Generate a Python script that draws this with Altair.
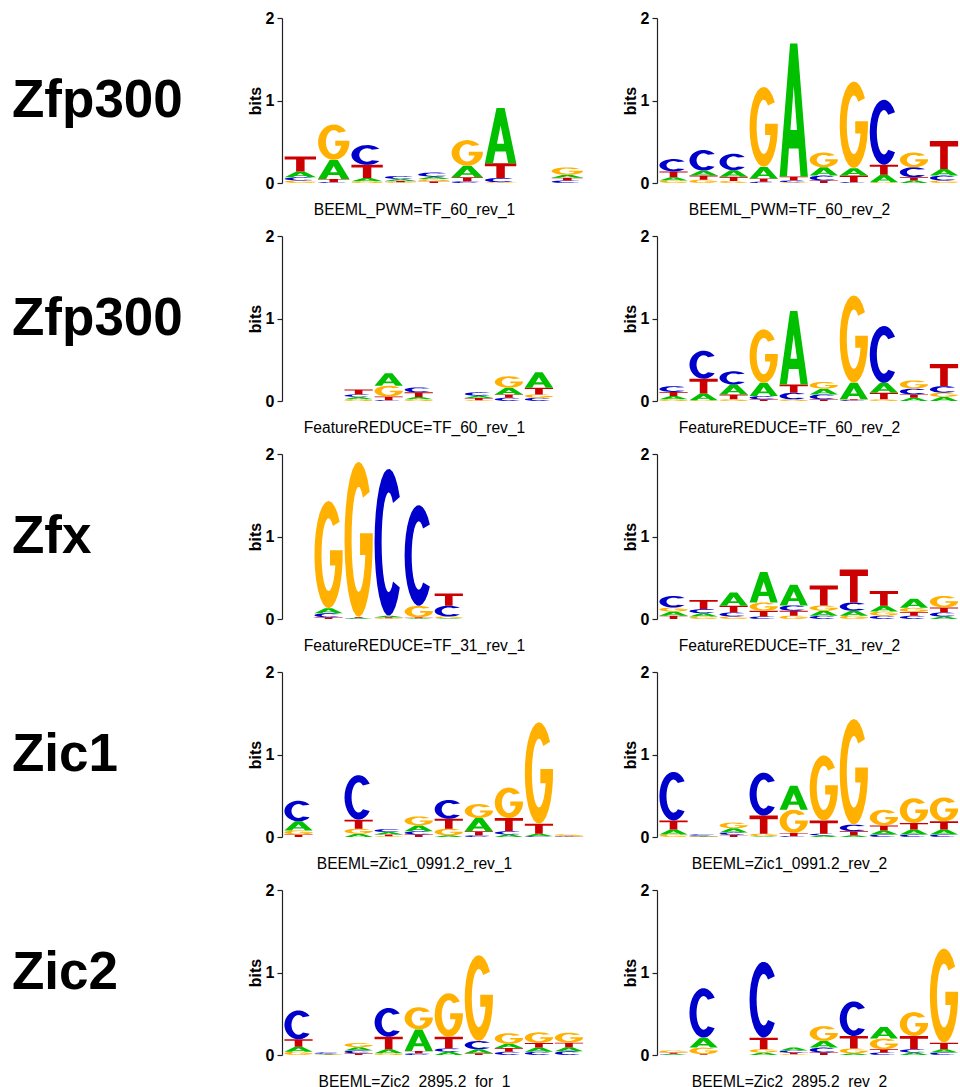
import math
import altair as alt
import pandas as pd

FONT = "Liberation Sans"
LETTERS = ["A", "C", "G", "T"]
LETTER_COLORS = ["#00c000", "#0000cc", "#ffb000", "#cc0000"]

# Information content (bits) of each base at each motif position.
beeml_pwm_tf60_rev1 = {
    "A": [0.07, 0.23, 0.04, 0.025, 0.03, 0.14, 0.67, 0.0, 0.035],
    "C": [0.04, 0.01, 0.24, 0.035, 0.05, 0.02, 0.05, 0.0, 0.03],
    "G": [0.03, 0.43, 0.02, 0.01, 0.025, 0.31, 0.01, 0.0, 0.09],
    "T": [0.18, 0.04, 0.16, 0.015, 0.022, 0.05, 0.18, 0.0, 0.034],
}
beeml_pwm_tf60_rev2 = {
    "A": [0.04, 0.06, 0.08, 0.14, 1.61, 0.10, 0.09, 0.09, 0.03, 0.08],
    "C": [0.15, 0.25, 0.20, 0.015, 0.02, 0.06, 0.01, 0.79, 0.12, 0.06],
    "G": [0.03, 0.04, 0.025, 0.97, 0.01, 0.18, 1.05, 0.01, 0.18, 0.03],
    "T": [0.07, 0.05, 0.05, 0.04, 0.05, 0.03, 0.08, 0.12, 0.04, 0.34],
}
featurereduce_tf60_rev1 = {
    "A": [0.0, 0.0, 0.03, 0.15, 0.03, 0.0, 0.03, 0.08, 0.19, 0.0],
    "C": [0.0, 0.0, 0.03, 0.01, 0.06, 0.0, 0.04, 0.04, 0.04, 0.0],
    "G": [0.0, 0.0, 0.02, 0.13, 0.02, 0.0, 0.01, 0.14, 0.04, 0.0],
    "T": [0.0, 0.0, 0.06, 0.045, 0.055, 0.0, 0.025, 0.04, 0.08, 0.0],
}
featurereduce_tf60_rev2 = {
    "A": [0.04, 0.08, 0.12, 0.16, 0.89, 0.07, 0.20, 0.12, 0.04, 0.05],
    "C": [0.07, 0.34, 0.16, 0.04, 0.08, 0.06, 0.01, 0.69, 0.07, 0.08],
    "G": [0.02, 0.01, 0.02, 0.65, 0.02, 0.08, 1.06, 0.02, 0.10, 0.05],
    "T": [0.05, 0.18, 0.06, 0.02, 0.10, 0.02, 0.01, 0.08, 0.04, 0.27],
}
featurereduce_tf31_rev1 = {
    "A": [0.0, 0.06, 0.01, 0.02, 0.01, 0.01, 0.0, 0.0, 0.0, 0.0],
    "C": [0.0, 0.05, 0.005, 1.78, 1.22, 0.13, 0.0, 0.0, 0.0, 0.0],
    "G": [0.0, 1.30, 1.88, 0.01, 0.14, 0.02, 0.0, 0.0, 0.0, 0.0],
    "T": [0.0, 0.02, 0.01, 0.01, 0.01, 0.15, 0.0, 0.0, 0.0, 0.0],
}
featurereduce_tf31_rev2 = {
    "A": [0.05, 0.04, 0.16, 0.37, 0.25, 0.06, 0.06, 0.07, 0.11, 0.03],
    "C": [0.14, 0.05, 0.05, 0.03, 0.065, 0.04, 0.10, 0.04, 0.04, 0.05],
    "G": [0.05, 0.03, 0.03, 0.10, 0.04, 0.065, 0.04, 0.05, 0.05, 0.14],
    "T": [0.04, 0.11, 0.08, 0.07, 0.06, 0.24, 0.40, 0.18, 0.045, 0.06],
}
beeml_zic1_rev1 = {
    "A": [0.11, 0.0, 0.04, 0.03, 0.07, 0.02, 0.16, 0.03, 0.03, 0.004],
    "C": [0.25, 0.0, 0.54, 0.035, 0.04, 0.23, 0.02, 0.04, 0.01, 0.006],
    "G": [0.05, 0.0, 0.06, 0.01, 0.11, 0.08, 0.17, 0.37, 1.23, 0.02],
    "T": [0.03, 0.0, 0.11, 0.02, 0.03, 0.12, 0.05, 0.16, 0.12, 0.004],
}
beeml_zic1_rev2 = {
    "A": [0.06, 0.008, 0.05, 0.01, 0.29, 0.02, 0.02, 0.05, 0.06, 0.06],
    "C": [0.59, 0.015, 0.03, 0.52, 0.01, 0.02, 0.08, 0.03, 0.03, 0.03],
    "G": [0.03, 0.004, 0.07, 0.03, 0.28, 0.79, 1.28, 0.19, 0.30, 0.29],
    "T": [0.11, 0.004, 0.025, 0.22, 0.04, 0.16, 0.05, 0.06, 0.08, 0.10],
}
beeml_zic2_for1 = {
    "A": [0.06, 0.005, 0.04, 0.05, 0.26, 0.04, 0.05, 0.05, 0.05, 0.05],
    "C": [0.35, 0.015, 0.035, 0.35, 0.02, 0.04, 0.10, 0.04, 0.04, 0.045],
    "G": [0.04, 0.005, 0.05, 0.02, 0.27, 0.53, 1.04, 0.13, 0.13, 0.12],
    "T": [0.09, 0.005, 0.02, 0.15, 0.03, 0.14, 0.02, 0.045, 0.055, 0.055],
}
beeml_zic2_rev2 = {
    "A": [0.01, 0.12, 0.0, 0.03, 0.035, 0.08, 0.02, 0.14, 0.03, 0.04],
    "C": [0.005, 0.60, 0.0, 0.92, 0.025, 0.06, 0.42, 0.03, 0.04, 0.03],
    "G": [0.025, 0.08, 0.0, 0.04, 0.01, 0.18, 0.06, 0.13, 0.29, 1.14],
    "T": [0.015, 0.01, 0.0, 0.14, 0.02, 0.03, 0.15, 0.04, 0.16, 0.08],
}

ROW_NAMES = ["Zfp300", "Zfp300", "Zfx", "Zic1", "Zic2"]
PANELS = [
    ("BEEML_PWM=TF_60_rev_1", beeml_pwm_tf60_rev1),
    ("BEEML_PWM=TF_60_rev_2", beeml_pwm_tf60_rev2),
    ("FeatureREDUCE=TF_60_rev_1", featurereduce_tf60_rev1),
    ("FeatureREDUCE=TF_60_rev_2", featurereduce_tf60_rev2),
    ("FeatureREDUCE=TF_31_rev_1", featurereduce_tf31_rev1),
    ("FeatureREDUCE=TF_31_rev_2", featurereduce_tf31_rev2),
    ("BEEML=Zic1_0991.2_rev_1", beeml_zic1_rev1),
    ("BEEML=Zic1_0991.2_rev_2", beeml_zic1_rev2),
    ("BEEML=Zic2_2895.2_for_1", beeml_zic2_for1),
    ("BEEML=Zic2_2895.2_rev_2", beeml_zic2_rev2),
]
BIT_TICKS = [0, 1, 2]

# ---- letter outlines in a unit box (x, y in [0, 1]) ----
RX_IN, RY_IN = 0.25, 0.34


def ellipse(a0, a1, rx, ry, n):
    pts = []
    for i in range(n + 1):
        t = math.radians(a0 + (a1 - a0) * i / n)
        pts.append((0.5 + rx * math.cos(t), 0.5 + ry * math.sin(t)))
    return pts


def outline_c():
    return ellipse(38, 322, 0.5, 0.5, 24) + ellipse(308, 52, RX_IN, RY_IN, 20)


def outline_g():
    bar_lo, bar_hi = 0.40, 0.54
    th = math.degrees(math.asin((bar_lo - 0.5) / RY_IN))
    x_in = 0.5 + RX_IN * math.cos(math.radians(th))
    pts = ellipse(38, 352, 0.5, 0.5, 24)
    pts += [(1.0, bar_hi), (0.55, bar_hi), (0.55, bar_lo), (x_in, bar_lo)]
    pts += ellipse(360 + th, 52, RX_IN, RY_IN, 20)
    return pts


OUTLINES = {
    "A": [(0, 0), (0.37, 1), (0.63, 1), (1, 0), (0.74, 0), (0.67, 0.21),
          (0.33, 0.21), (0.26, 0)],
    "A_hole": [(0.385, 0.35), (0.615, 0.35), (0.5, 0.68)],
    "C": outline_c(),
    "G": outline_g(),
    "T": [(0, 1), (1, 1), (1, 0.8), (0.635, 0.8), (0.635, 0), (0.365, 0),
          (0.365, 0.8), (0, 0.8)],
}
glyph_records = [
    {"glyph": g, "ux": [p[0] for p in pts], "uy": [p[1] for p in pts],
     "k": list(range(len(pts)))}
    for g, pts in OUTLINES.items()
]

# ---- stacked letters: smallest at the bottom, tallest on top ----
rows = []
for p, (_, motif) in enumerate(PANELS):
    n = len(motif["A"])
    for i in range(n):
        stack = sorted(LETTERS, key=lambda L: motif[L][i])
        y0 = 0.0
        for L in stack:
            h = motif[L][i]
            if h > 0:
                base = {"panel": p, "pos": i + 1, "letter": L, "h": h, "y0": y0}
                rows.append({**base, "glyph": L, "inst": f"{p}-{i}-{L}"})
                if L == "A":
                    rows.append({**base, "glyph": "A_hole", "inst": f"{p}-{i}-Ah"})
            y0 += h
letters_df = pd.DataFrame(rows)

PLOT_W, PLOT_H = 302, 165
LABEL_W = 197


def logo(p):
    caption, motif = PANELS[p]
    n = len(motif["A"])
    base = (
        alt.Chart(letters_df)
        .transform_filter(alt.datum.panel == p)
        .transform_lookup(
            lookup="glyph",
            from_=alt.LookupData(alt.Data(values=glyph_records), "glyph", ["ux", "uy", "k"]),
        )
        .transform_flatten(["ux", "uy", "k"])
        .transform_calculate(
            gx="datum.pos - 0.5 + 0.03 + 0.94 * datum.ux",
            gy="datum.y0 + datum.h * datum.uy",
        )
    )
    x = alt.X(
        "gx:Q",
        scale=alt.Scale(domain=[0.45, n + 0.5], nice=False, zero=False),
        axis=alt.Axis(
            title=caption, labels=False, ticks=False, domain=False, grid=False,
            titleX=132, titleY=26, titleBaseline="middle", titleAlign="center",
            titleFont=FONT, titleFontSize=15.6, titleFontWeight="normal",
            titleColor="black",
        ),
    )
    y = alt.Y(
        "gy:Q",
        scale=alt.Scale(domain=[0, 2], nice=False),
        axis=alt.Axis(
            title="bits", values=BIT_TICKS, grid=False,
            labelExpr="format(datum.value, 'd')",
            labelOverlap=False, labelFlush=False,
            labelFont=FONT, labelFontSize=16, labelFontWeight="bold",
            labelColor="black", labelPadding=3, tickSize=5, tickColor="#222",
            domainColor="#222", tickWidth=1.2, domainWidth=1.2,
            titleFont=FONT, titleFontSize=16, titleFontWeight="bold",
            titleColor="black", titlePadding=2,
        ),
    )
    body = (
        base.transform_filter(alt.datum.glyph != "A_hole")
        .mark_line(filled=True, strokeWidth=0)
        .encode(
            x=x, y=y,
            color=alt.Color("letter:N", scale=alt.Scale(domain=LETTERS, range=LETTER_COLORS), legend=None),
            detail="inst:N",
            order="k:Q",
        )
    )
    holes = (
        base.transform_filter(alt.datum.glyph == "A_hole")
        .mark_line(filled=True, strokeWidth=0, color="white")
        .encode(x=alt.X("gx:Q"), y=alt.Y("gy:Q"), detail="inst:N", order="k:Q")
    )
    return alt.layer(body, holes).properties(width=PLOT_W, height=PLOT_H)


def row_label(text):
    return (
        alt.Chart(alt.Data(values=[{"name": text}]))
        .mark_text(align="left", baseline="alphabetic", fontSize=53,
                   fontWeight="bold", font=FONT, color="black")
        .encode(text="name:N", x=alt.value(0), y=alt.value(99))
        .properties(width=LABEL_W, height=PLOT_H)
    )


cells = []
for r, name in enumerate(ROW_NAMES):
    cells += [row_label(name), logo(2 * r), logo(2 * r + 1)]

chart = (
    alt.concat(*cells, columns=3, spacing={"row": 53, "column": 73},
               bounds="flush", align="each")
    .properties(padding={"left": 12, "top": 10, "right": 0, "bottom": 0},
                background="white")
    .configure(font=FONT)
    .configure_view(stroke=None)
)

chart.save("out.html", embed_options={"renderer": "svg", "actions": False})
